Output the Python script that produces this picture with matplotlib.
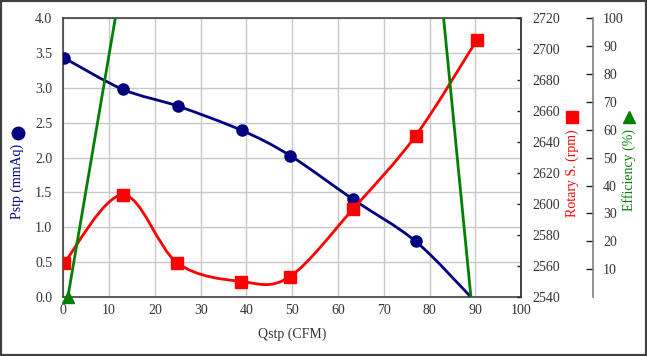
import numpy as np
import matplotlib
matplotlib.use("Agg")
import matplotlib.pyplot as plt
from matplotlib.path import Path
from matplotlib.patches import PathPatch, Rectangle
from matplotlib.lines import Line2D

plt.rcParams['font.family'] = ['Liberation Serif', 'DejaVu Serif']

# data
qstp = [0.2, 13.0, 25.0, 39.0, 49.5, 63.3, 76.9, 89.0]
pstp = [3.43, 2.98, 2.74, 2.39, 2.03, 1.40, 0.80, 0.0]
rpm_q = [0.2, 13.0, 24.9, 38.9, 49.4, 63.3, 76.9, 90.3]
rpm = [2562, 2606, 2562, 2550, 2553, 2597, 2644, 2706]
eff_q = [1.0, 13.0, 25.0, 39.0, 49.5, 63.3, 76.9, 89.0]
eff = [0, 116, 175, 220, 240, 245, 203, 0]

x_ticks = list(range(0, 101, 10))
p_ticks = [0.0, 0.5, 1.0, 1.5, 2.0, 2.5, 3.0, 3.5, 4.0]
rpm_ticks = list(range(2540, 2721, 20))
eff_ticks = list(range(10, 101, 10))

NAVY = '#000080'
RED = '#ff0000'
GREEN = '#008000'
TXT = '#333333'

W, H = 647, 356


def smooth_path(x, y):
    # excel-like smoothed line, cubic bezier through every point
    p = np.column_stack([x, y]).astype(float)
    ext = np.vstack([p[0], p, p[-1]])
    verts = [p[0]]
    codes = [Path.MOVETO]
    for i in range(len(p) - 1):
        p0, p1, p2, p3 = ext[i], ext[i + 1], ext[i + 2], ext[i + 3]
        verts += [p1 + (p2 - p0) / 6, p2 - (p3 - p1) / 6, p2]
        codes += [Path.CURVE4] * 3
    return Path(verts, codes)


fig = plt.figure(figsize=(W / 100, H / 100), dpi=100)
x0, x1, y0, y1 = 63.3, 521.3, 18.3, 297.0
rect = [x0 / W, 1 - y1 / H, (x1 - x0) / W, (y1 - y0) / H]

ax = fig.add_axes(rect)
ax.set_xlim(0, 100)
ax.set_ylim(0, 4.0)
ax.set_xticks(x_ticks)
ax.set_yticks(p_ticks)
ax.set_yticklabels(['%.1f' % v for v in p_ticks])
ax.grid(color='#c8c8c8', lw=1)
ax.set_axisbelow(True)
ax.tick_params(axis='both', length=0, labelsize=10, colors=TXT)
ax.tick_params(axis='y', pad=8)
ax.tick_params(axis='x', pad=5)
for s in ax.spines.values():
    s.set_color('#404040')
    s.set_linewidth(1.2)

ax.add_patch(PathPatch(smooth_path(qstp, pstp), fill=False, edgecolor=NAVY, lw=2, zorder=3))
ax.plot(qstp, pstp, ls='none', marker='o', ms=8, color=NAVY,
        markevery=list(range(len(qstp) - 1)), zorder=4)

ax2 = ax.twinx()
ax2.set_ylim(2540, 2720)
ax2.set_yticks(rpm_ticks)
ax2.tick_params(axis='y', direction='in', length=3, width=1, color='#222222',
                labelsize=10, labelcolor=TXT, pad=8)
for k in ['top', 'left', 'bottom']:
    ax2.spines[k].set_visible(False)
ax2.spines['right'].set_color('#404040')
ax2.spines['right'].set_linewidth(1.2)
ax2.add_patch(PathPatch(smooth_path(rpm_q, rpm), fill=False, edgecolor=RED, lw=2, zorder=3))
ax2.plot(rpm_q, rpm, ls='none', marker='s', ms=8, color=RED, zorder=4)

ax3 = ax.twinx()
ax3.set_ylim(0, 100)
ax3.set_yticks(eff_ticks)
for k in ['top', 'left', 'bottom']:
    ax3.spines[k].set_visible(False)
ax3.spines['right'].set_position(('axes', (593.3 - x0) / (x1 - x0)))
ax3.spines['right'].set_color('#808080')
ax3.spines['right'].set_linewidth(1.2)
ax3.tick_params(axis='y', direction='in', length=5, width=1, color='#222222',
                labelsize=10, labelcolor=TXT, pad=7)
ax3.plot(eff_q, eff, color=GREEN, lw=2, zorder=3)
ax3.plot(eff_q[:1], eff[:1], ls='none', marker='^', ms=8, color=GREEN, clip_on=False, zorder=5)

# axis titles with their legend markers
fig.text(17.5 / W, 1 - 181 / H, 'Pstp (mmAq)', rotation=90, color=NAVY,
         ha='center', va='center', fontsize=10)
fig.add_artist(Line2D([17.5 / W], [1 - 133 / H], marker='o', ms=9, color=NAVY,
                      transform=fig.transFigure))
fig.text(572 / W, 1 - 173 / H, 'Rotary S. (rpm)', rotation=90, color=RED,
         ha='center', va='center', fontsize=10)
fig.add_artist(Line2D([572 / W], [1 - 117 / H], marker='s', ms=9, color=RED,
                      transform=fig.transFigure))
fig.text(629 / W, 1 - 170 / H, 'Efficiency (%)', rotation=90, color=GREEN,
         ha='center', va='center', fontsize=10)
fig.add_artist(Line2D([629 / W], [1 - 117 / H], marker='^', ms=9, color=GREEN,
                      transform=fig.transFigure))
fig.text(292 / W, 1 - 334 / H, 'Qstp (CFM)', color=TXT, ha='center', va='center', fontsize=10)

fig.add_artist(Rectangle((0, 0), 1, 1, transform=fig.transFigure, fill=False,
                         edgecolor='#404040', lw=3))

fig.savefig('out.png', dpi=100)
